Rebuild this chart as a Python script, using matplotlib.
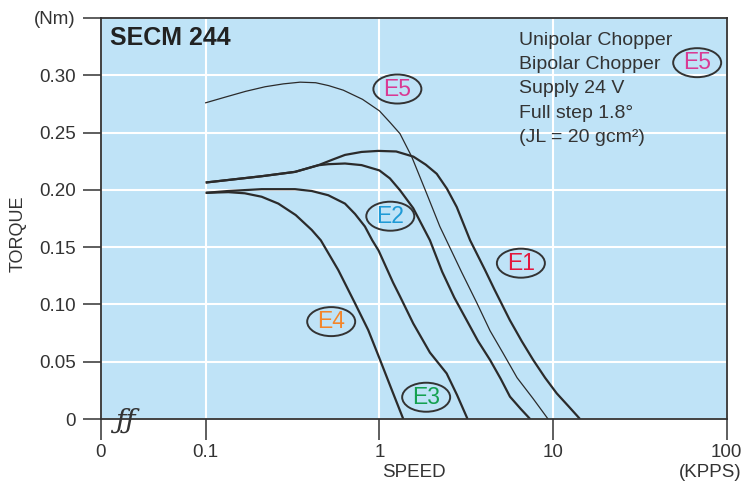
import matplotlib
matplotlib.use("Agg")
import matplotlib.pyplot as plt
from matplotlib.patches import Ellipse
from matplotlib.ticker import NullLocator

plt.rcParams["font.family"] = ["Liberation Sans", "DejaVu Sans"]

# torque curves (speed in kpps, torque in Nm)
E5_SPEED = [0.1, 0.13, 0.17, 0.22, 0.28, 0.35, 0.43, 0.51, 0.62, 0.80, 1.0, 1.15,
            1.315, 1.535, 1.87, 2.23, 2.98, 3.65, 4.34, 5.15, 6.21, 7.66, 9.36]
E5_TORQUE = [0.276, 0.281, 0.286, 0.290, 0.2925, 0.294, 0.2935, 0.291, 0.287, 0.279,
             0.269, 0.259, 0.249, 0.229, 0.197, 0.168, 0.128, 0.101, 0.077, 0.0576,
             0.036, 0.018, 0.0]

E1_SPEED = [0.1, 0.21, 0.327, 0.445, 0.54, 0.634, 0.79, 0.986, 1.25, 1.57, 1.85, 2.14,
            2.45, 2.79, 3.33, 4.06, 4.6, 5.64, 6.6, 7.69, 9.0, 10.5, 12.3, 14.3]
E1_TORQUE = [0.2064, 0.2119, 0.2157, 0.2215, 0.2265, 0.2305, 0.2331, 0.234, 0.2335,
             0.229, 0.222, 0.214, 0.201, 0.185, 0.156, 0.130, 0.113, 0.0863, 0.068,
             0.0515, 0.036, 0.0224, 0.011, 0.0]

E2_SPEED = [0.1, 0.21, 0.327, 0.445, 0.508, 0.634, 0.79, 1.0, 1.15, 1.314, 1.567,
            1.955, 2.3, 2.7, 3.18, 3.7, 4.34, 5.0, 5.65, 6.5, 7.38]
E2_TORQUE = [0.2064, 0.2119, 0.2157, 0.2215, 0.2224, 0.2230, 0.2216, 0.217, 0.210,
             0.1997, 0.184, 0.156, 0.1285, 0.106, 0.0863, 0.068, 0.0515, 0.035,
             0.0195, 0.009, 0.0]

E3_SPEED = [0.1, 0.135, 0.21, 0.327, 0.408, 0.508, 0.634, 0.724, 0.826, 0.91, 0.99,
            1.2, 1.315, 1.567, 1.955, 2.44, 2.8, 3.22]
E3_TORQUE = [0.1974, 0.199, 0.2006, 0.2006, 0.199, 0.1953, 0.188, 0.179, 0.168, 0.156,
             0.147, 0.119, 0.107, 0.0834, 0.058, 0.0398, 0.021, 0.0]

E4_SPEED = [0.1, 0.135, 0.168, 0.21, 0.262, 0.33, 0.408, 0.46, 0.58, 0.724, 0.863,
            1.01, 1.18, 1.373]
E4_TORQUE = [0.1974, 0.198, 0.197, 0.194, 0.188, 0.178, 0.165, 0.156, 0.130, 0.101,
             0.0776, 0.0515, 0.0253, 0.0]

# curve tags: (text, colour, speed, torque)
TAGS = [
    ("E5", "#d93a94", 1.27, 0.288),
    ("E2", "#1e9ad6", 1.156, 0.177),
    ("E1", "#e3173e", 6.53, 0.136),
    ("E4", "#f4862a", 0.528, 0.085),
    ("E3", "#14a050", 1.86, 0.019),
    ("E5", "#d93a94", 67.6, 0.311),
]

INFO_LINES = ["Unipolar Chopper", "Bipolar Chopper", "Supply 24 V",
              "Full step 1.8°", "(JL = 20 gcm²)"]

Y_TICKS = [0, 0.05, 0.10, 0.15, 0.20, 0.25, 0.30, 0.35]
Y_LABELS = ["0", "0.05", "0.10", "0.15", "0.20", "0.25", "0.30", "(Nm)"]
X_ZERO = 0.02486  # where the broken axis puts "0"
X_TICKS = [X_ZERO, 0.1, 1, 10, 100]
X_LABELS = ["0", "0.1", "1", "10", "100"]

DARK = "#2b2b2b"
BG = "#bfe3f7"

fig = plt.figure(figsize=(7.45, 4.86), dpi=100)
W, H = 745, 486
ax = fig.add_axes([100.7 / W, 1 - 419 / H, 626 / W, 401 / H])
ax.set_facecolor(BG)

ax.plot(E5_SPEED, E5_TORQUE, color=DARK, lw=0.9)
for sp, tq in [(E1_SPEED, E1_TORQUE), (E2_SPEED, E2_TORQUE),
               (E3_SPEED, E3_TORQUE), (E4_SPEED, E4_TORQUE)]:
    ax.plot(sp, tq, color=DARK, lw=1.6, solid_capstyle="butt", solid_joinstyle="round")

ax.set_xscale("log")
ax.set_xlim(X_ZERO, 100)
ax.set_ylim(0, 0.35)
ax.set_xticks(X_TICKS)
ax.set_xticklabels(X_LABELS)
ax.xaxis.set_minor_locator(NullLocator())
ax.set_yticks(Y_TICKS)
ax.set_yticklabels(Y_LABELS)
ax.tick_params(axis="y", length=13, width=1.1, color="#333333", pad=5,
               labelsize=13.5, labelcolor="#333333")
ax.tick_params(axis="x", length=15, width=1.1, color="#333333", pad=3,
               labelsize=13.5, labelcolor="#333333")
ax.grid(True, color="white", lw=1.5)
ax.set_axisbelow(True)
for s in ax.spines.values():
    s.set_color("#333333")
    s.set_linewidth(1.3)

# tags with ellipses (ellipse sized in pixels, drawn in axes fraction)
ax_w, ax_h = 626, 401
to_axes = ax.transAxes.inverted()
for txt, col, sp, tq in TAGS:
    cx, cy = to_axes.transform(ax.transData.transform((sp, tq)))
    ax.add_patch(Ellipse((cx, cy), 48 / ax_w, 29 / ax_h, transform=ax.transAxes,
                         fc="none", ec="#333333", lw=1.4, clip_on=False))
    ax.text(cx, cy, txt, transform=ax.transAxes, color=col, fontsize=16.5,
            ha="center", va="center")

ax.text(0.0148, 0.933, "SECM 244", transform=ax.transAxes, fontsize=18,
        fontweight="bold", color="#222222", va="baseline")

for i, line in enumerate(INFO_LINES):
    ax.text(0.668, 0.933 - i * 0.0605, line, transform=ax.transAxes,
            fontsize=14, color="#333333", va="baseline")

# axis break marks
ax.text(0.04, -0.005, "ƒƒ", transform=ax.transAxes, fontsize=20, style="italic",
        family="DejaVu Serif", color="#333333", ha="center", va="center")

fig.text(18 / W, 1 - 234 / H, "TORQUE", rotation=90, fontsize=13,
         color="#333333", ha="center", va="center")
fig.text(414 / W, 1 - 472 / H, "SPEED", fontsize=13.5, color="#333333",
         ha="center", va="center")
fig.text(741 / W, 1 - 472 / H, "(KPPS)", fontsize=13.5, color="#333333",
         ha="right", va="center")

fig.savefig("out.png", dpi=100)
